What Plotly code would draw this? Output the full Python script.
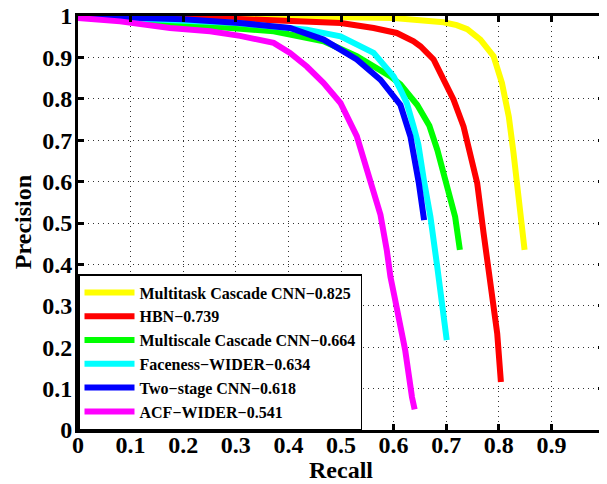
import plotly.graph_objects as go

names = [
    "Multitask Cascade CNN\u22120.825",
    "HBN\u22120.739",
    "Multiscale Cascade CNN\u22120.664",
    "Faceness\u2212WIDER\u22120.634",
    "Two\u2212stage CNN\u22120.618",
    "ACF\u2212WIDER\u22120.541",
]
colors = ["#ffff00", "#ff0000", "#00ff00", "#00ffff", "#0000ff", "#ff00ff"]

mtcnn_recall = [0, 0.1, 0.2, 0.3, 0.4, 0.5, 0.6, 0.65, 0.695, 0.72, 0.74, 0.765, 0.79, 0.806, 0.819, 0.828, 0.835, 0.844, 0.849]
mtcnn_prec = [1, 1, 1, 0.999, 0.998, 0.997, 0.995, 0.991, 0.985, 0.978, 0.968, 0.943, 0.903, 0.838, 0.757, 0.669, 0.596, 0.515, 0.435]

hbn_recall = [0, 0.1, 0.2, 0.3, 0.4, 0.5, 0.562, 0.606, 0.638, 0.651, 0.676, 0.695, 0.714, 0.733, 0.746, 0.759, 0.771, 0.784, 0.797, 0.804]
hbn_prec = [1, 0.999, 0.997, 0.993, 0.989, 0.983, 0.971, 0.959, 0.939, 0.927, 0.895, 0.846, 0.798, 0.733, 0.669, 0.596, 0.476, 0.355, 0.233, 0.116]

msc_recall = [0, 0.05, 0.1, 0.2, 0.308, 0.372, 0.467, 0.530, 0.594, 0.613, 0.645, 0.668, 0.683, 0.701, 0.717, 0.726]
msc_prec = [1, 0.995, 0.99, 0.98, 0.971, 0.963, 0.939, 0.903, 0.854, 0.835, 0.785, 0.735, 0.677, 0.596, 0.515, 0.435]

face_recall = [0, 0.1, 0.2, 0.3, 0.435, 0.499, 0.562, 0.600, 0.613, 0.625, 0.638, 0.647, 0.658, 0.670, 0.683, 0.692, 0.701]
face_prec = [1, 0.995, 0.99, 0.983, 0.967, 0.951, 0.911, 0.854, 0.822, 0.790, 0.733, 0.690, 0.60, 0.515, 0.394, 0.314, 0.217]

two_recall = [0, 0.1, 0.2, 0.308, 0.403, 0.467, 0.530, 0.575, 0.613, 0.632, 0.638, 0.648, 0.658]
two_prec = [1, 0.997, 0.992, 0.983, 0.971, 0.943, 0.895, 0.846, 0.785, 0.709, 0.669, 0.596, 0.507]

acf_recall = [0, 0.08, 0.175, 0.251, 0.308, 0.372, 0.403, 0.435, 0.467, 0.499, 0.530, 0.556, 0.575, 0.587, 0.594, 0.603, 0.622, 0.635, 0.64]
acf_prec = [0.995, 0.987, 0.971, 0.963, 0.952, 0.935, 0.911, 0.878, 0.838, 0.790, 0.710, 0.604, 0.52, 0.435, 0.37, 0.314, 0.193, 0.079, 0.05]

tick_vals = [0, 0.1, 0.2, 0.3, 0.4, 0.5, 0.6, 0.7, 0.8, 0.9, 1]
tick_text = ["0", "0.1", "0.2", "0.3", "0.4", "0.5", "0.6", "0.7", "0.8", "0.9", "1"]

series = [
    (mtcnn_recall, mtcnn_prec),
    (hbn_recall, hbn_prec),
    (msc_recall, msc_prec),
    (face_recall, face_prec),
    (two_recall, two_prec),
    (acf_recall, acf_prec),
]

FONT = "Liberation Serif, Times New Roman, serif"

fig = go.Figure()
for i, ((xs, ys), name, c) in enumerate(zip(series, names, colors)):
    fig.add_trace(go.Scatter(
        x=xs, y=ys, mode="lines", name=name, legendgroup=f"g{i}",
        line=dict(color=c, width=6),
    ))

axis_common = dict(
    range=[0, 1], tickvals=tick_vals, ticktext=tick_text, automargin=False,
    showgrid=True, gridcolor="#333333", gridwidth=1, griddash="1px,4px",
    zeroline=False, showline=True, linecolor="black", linewidth=3,
    mirror="ticks", ticks="inside", ticklen=6, tickwidth=3, tickcolor="black",
    ticklabeloverflow="allow",
    tickfont=dict(family=FONT, size=24, color="black", weight="bold"),
)

title_font = dict(family=FONT, size=24, color="black", weight="bold")

# page body has an 8px margin; size the figure so it fits the 607x484 window
fig.update_layout(
    width=599, height=476,
    margin=dict(l=70, r=3, t=8, b=54),
    paper_bgcolor="white", plot_bgcolor="white",
    xaxis=dict(**axis_common, ticklabelstandoff=-9),
    yaxis=dict(**axis_common, ticklabelstandoff=-2),
    legend=dict(
        x=0, y=0, xanchor="left", yanchor="bottom",
        bgcolor="white", bordercolor="black", borderwidth=1.5,
        font=dict(family=FONT, size=16, color="black", weight="bold"),
        tracegroupgap=0, itemwidth=50,
    ),
    showlegend=True,
    annotations=[
        dict(text="Recall", x=0.5, y=-0.0966, xref="paper", yref="paper",
             xanchor="center", yanchor="middle", showarrow=False, font=title_font),
        dict(text="Precision", x=-0.1046, y=0.502, xref="paper", yref="paper",
             xanchor="center", yanchor="middle", textangle=-90, showarrow=False,
             font=title_font),
    ],
)

fig.write_html("out.html")
